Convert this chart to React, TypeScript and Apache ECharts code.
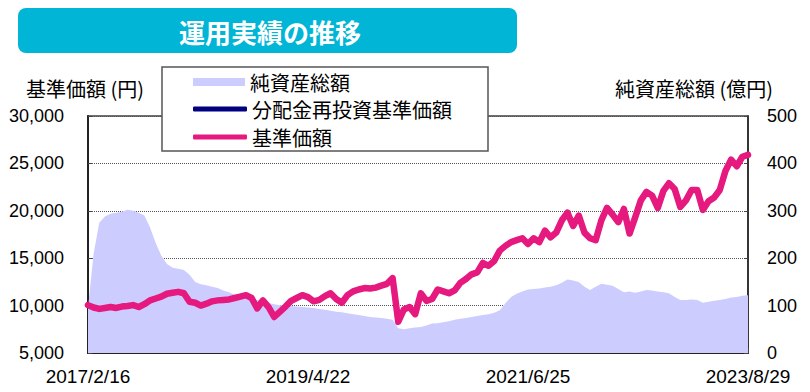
import React, { useEffect, useRef } from "react";
import * as echarts from "echarts";

const dates: string[] = [
  "2017/2/16", "2017/3/8", "2017/3/28", "2017/4/18", "2017/5/8", "2017/5/29", "2017/6/19", "2017/7/10", "2017/7/28", "2017/8/18",
  "2017/9/7", "2017/9/28", "2017/10/18", "2017/11/8", "2017/11/28", "2017/12/18", "2018/1/10", "2018/1/30", "2018/2/19", "2018/3/12",
  "2018/4/2", "2018/4/20", "2018/5/11", "2018/6/1", "2018/6/21", "2018/7/11", "2018/8/1", "2018/8/21", "2018/9/10", "2018/10/1",
  "2018/10/22", "2018/11/12", "2018/12/3", "2018/12/21", "2019/1/11", "2019/2/1", "2019/2/21", "2019/3/13", "2019/4/2", "2019/4/22",
  "2019/5/13", "2019/6/3", "2019/6/24", "2019/7/12", "2019/8/2", "2019/8/23", "2019/9/12", "2019/10/2", "2019/10/23", "2019/11/12",
  "2019/12/3", "2019/12/23", "2020/1/14", "2020/2/3", "2020/2/24", "2020/3/16", "2020/4/3", "2020/4/24", "2020/5/15", "2020/6/4",
  "2020/6/25", "2020/7/15", "2020/8/5", "2020/8/25", "2020/9/15", "2020/10/5", "2020/10/26", "2020/11/16", "2020/12/4", "2020/12/25",
  "2021/1/15", "2021/2/4", "2021/2/25", "2021/3/17", "2021/4/7", "2021/4/27", "2021/5/18", "2021/6/7", "2021/6/25", "2021/7/16",
  "2021/8/5", "2021/8/26", "2021/9/15", "2021/10/6", "2021/10/26", "2021/11/16", "2021/12/6", "2021/12/27", "2022/1/17", "2022/2/7",
  "2022/2/25", "2022/3/18", "2022/4/8", "2022/4/28", "2022/5/19", "2022/6/8", "2022/6/29", "2022/7/19", "2022/8/8", "2022/8/29",
  "2022/9/16", "2022/10/7", "2022/10/27", "2022/11/17", "2022/12/7", "2022/12/28", "2023/1/18", "2023/2/7", "2023/2/28", "2023/3/20",
  "2023/4/10", "2023/4/28", "2023/5/19", "2023/6/8", "2023/6/29", "2023/7/19", "2023/8/9", "2023/8/29",
];

// 基準価額（円）
const nav: number[] = [
  10050, 9800, 9650, 9750, 9850, 9750, 9900, 9950, 10050, 9850,
  10150, 10550, 10750, 10950, 11250, 11350, 11450, 11300, 10400, 10300,
  10000, 10200, 10450, 10550, 10600, 10650, 10800, 10950, 11100, 10800,
  9700, 10550, 9850, 8800, 9350, 9900, 10500, 10800, 11100, 10900,
  10450, 10600, 11000, 11300, 10700, 10300, 11100, 11500, 11700, 11850,
  11800, 11900, 12100, 12300, 12900, 8300, 9600, 9850, 9100, 11300,
  10500, 10700, 11700, 11500, 11300, 11600, 12400, 12800, 13300, 13500,
  14500, 14200, 14700, 15800, 16300, 16700, 16900, 17100, 16500, 17100,
  16700, 17900, 17200, 17700, 19000, 19800, 18400, 19500, 17700, 17100,
  16900, 19000, 20300, 19600, 18800, 20200, 17600, 19300, 21100, 22000,
  21600, 20300, 22100, 22900, 22300, 20400, 21100, 22200, 22200, 20100,
  21000, 21400, 22200, 24200, 25400, 24700, 25700, 25900,
];

// 分配金再投資基準価額（円）: no distributions, identical to 基準価額
const reinvestedNav: number[] = [...nav];

// 純資産総額（億円）
const aum: number[] = [
  95, 210, 275, 288, 294, 296, 298, 302, 300, 296,
  290, 265, 232, 205, 188, 180, 178, 175, 165, 150,
  145, 143, 140, 137, 132, 128, 123, 121, 118, 115,
  112, 110, 106, 103, 101, 100, 99, 98, 97, 96,
  95, 93, 91, 89, 87, 86, 84, 82, 80, 78,
  76, 75, 74, 72, 70, 52, 50, 52, 54, 55,
  58, 62, 63, 65, 67, 70, 72, 74, 76, 78,
  80, 82, 85, 90, 105, 118, 125, 130, 134, 135,
  136, 138, 140, 143, 148, 155, 153, 150, 140, 133,
  140, 146, 144, 142, 135, 128, 130, 127, 130, 133,
  132, 130, 128, 126, 118, 112, 112, 113, 112, 106,
  108, 110, 112, 114, 117, 118, 121, 122,
];

const titleText = "運用実績の推移";
const leftAxisTitle = "基準価額 (円)";
const rightAxisTitle = "純資産総額 (億円)";
const seriesNames = ["純資産総額", "分配金再投資基準価額", "基準価額"];

const JP = '"Noto Sans CJK JP", "Noto Sans", sans-serif';
const NUM = '"Liberation Sans", Arial, sans-serif';

export default function App() {
  const ref = useRef<HTMLDivElement>(null);

  useEffect(() => {
    document.body.style.margin = "0";
    if (!ref.current) return;
    const chart = echarts.init(ref.current, undefined, { renderer: "svg" });

    chart.setOption({
      animation: false,
      backgroundColor: "#ffffff",
      grid: {
        left: 88,
        right: 62,
        top: 116,
        bottom: 39,
        show: true,
        borderColor: "#404040",
        borderWidth: 1.5,
      },
      xAxis: {
        type: "category",
        data: dates,
        boundaryGap: false,
        axisLine: { show: true, lineStyle: { color: "#222", width: 2 } },
        axisTick: { show: true, inside: true, length: 5, interval: 38, lineStyle: { color: "#444" } },
        axisLabel: {
          interval: 38,
          margin: 14,
          fontSize: 19,
          color: "#000",
          fontFamily: NUM,
        },
        splitLine: { show: false },
      },
      yAxis: [
        {
          type: "value",
          min: 5000,
          max: 30000,
          interval: 5000,
          axisLine: { show: true, lineStyle: { color: "#222", width: 2 } },
          axisTick: { show: true, inside: true, length: 4, lineStyle: { color: "#444" } },
          axisLabel: {
            margin: 24,
            fontSize: 18,
            color: "#000",
            fontFamily: NUM,
            formatter: (v: number) => v.toLocaleString("en-US"),
          },
          splitLine: { show: true, lineStyle: { color: "#555", type: "dotted", width: 1 } },
        },
        {
          type: "value",
          min: 0,
          max: 500,
          interval: 100,
          position: "right",
          axisLine: { show: true, lineStyle: { color: "#222", width: 1.5 } },
          axisTick: { show: true, inside: true, length: 4, lineStyle: { color: "#444" } },
          axisLabel: { margin: 19, fontSize: 18, color: "#000", fontFamily: NUM },
          splitLine: { show: false },
        },
      ],
      legend: [
        {
          data: [{ name: seriesNames[0], icon: "rect" }],
          left: 193,
          top: 72,
          padding: 0,
          itemWidth: 52,
          itemHeight: 8,
          selectedMode: false,
          itemStyle: { borderWidth: 0 },
          textStyle: { fontSize: 20, lineHeight: 20, color: "#000", fontFamily: JP },
          z: 60,
        },
        {
          data: [
            { name: seriesNames[1], icon: "roundRect" },
            { name: seriesNames[2], icon: "roundRect" },
          ],
          orient: "vertical",
          left: 193,
          top: 99,
          padding: 0,
          itemGap: 8,
          itemWidth: 54,
          itemHeight: 5,
          selectedMode: false,
          itemStyle: { borderWidth: 0 },
          textStyle: { fontSize: 20, lineHeight: 20, color: "#000", fontFamily: JP },
          z: 60,
        },
      ],
      graphic: [
        {
          type: "rect",
          shape: { x: 18, y: 8, width: 499, height: 45, r: 8 },
          style: { fill: "#00B5D5" },
          z: 10,
        },
        {
          type: "text",
          x: 270,
          y: 31,
          style: {
            text: titleText,
            fill: "#ffffff",
            font: `bold 26px ${JP}`,
            textAlign: "center",
            textVerticalAlign: "middle",
          },
          z: 11,
        },
        {
          type: "text",
          x: 85,
          y: 88,
          style: {
            text: leftAxisTitle,
            fill: "#000",
            font: `20px ${JP}`,
            textAlign: "center",
            textVerticalAlign: "middle",
          },
          z: 11,
        },
        {
          type: "text",
          x: 694,
          y: 88,
          style: {
            text: rightAxisTitle,
            fill: "#000",
            font: `20px ${JP}`,
            textAlign: "center",
            textVerticalAlign: "middle",
          },
          z: 11,
        },
        {
          type: "rect",
          shape: { x: 162, y: 67, width: 326, height: 84 },
          style: { fill: "#ffffff", stroke: "#555555", lineWidth: 1.5 },
          z: 50,
        },
      ],
      series: [
        {
          name: seriesNames[0],
          type: "line",
          yAxisIndex: 1,
          data: aum,
          symbol: "none",
          color: "#CCCCFF",
          itemStyle: { color: "#CCCCFF" },
          lineStyle: { width: 0, color: "#CCCCFF" },
          areaStyle: { color: "#CCCCFF", opacity: 1 },
          z: 1,
        },
        {
          name: seriesNames[1],
          type: "line",
          yAxisIndex: 0,
          data: reinvestedNav,
          symbol: "none",
          color: "#000080",
          itemStyle: { color: "#000080" },
          lineStyle: { width: 5, color: "#000080", cap: "round", join: "round" },
          z: 2,
        },
        {
          name: seriesNames[2],
          type: "line",
          yAxisIndex: 0,
          data: nav,
          symbol: "none",
          color: "#E6197F",
          itemStyle: { color: "#E6197F" },
          lineStyle: { width: 6.5, color: "#E6197F", cap: "round", join: "round" },
          z: 3,
        },
      ],
    });

    return () => {
      chart.dispose();
    };
  }, []);

  return <div ref={ref} style={{ width: 810, height: 392 }} />;
}
